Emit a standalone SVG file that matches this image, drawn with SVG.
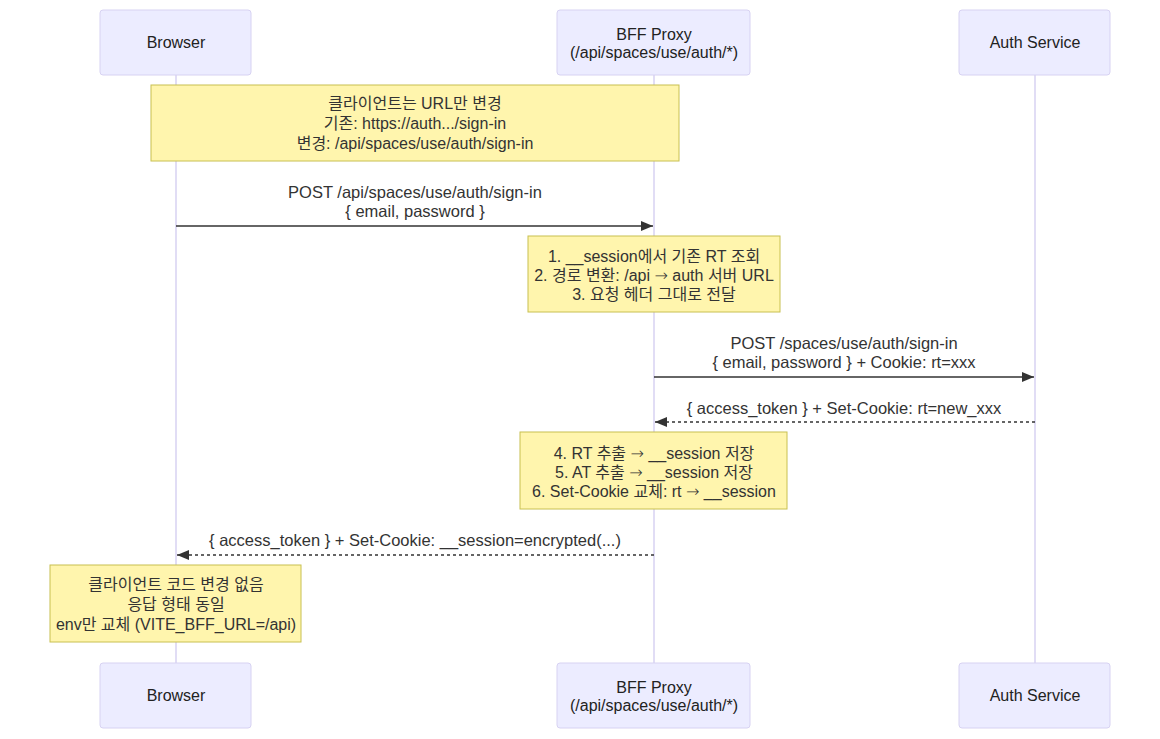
<svg xmlns="http://www.w3.org/2000/svg" width="1160" height="739" viewBox="0 0 1160 739">
  <style>
    .actor { fill: #ececff; stroke: #d7d2f2; stroke-width: 1; }
    .life { stroke: #d7d2f2; stroke-width: 1.5; }
    .note { fill: #fff5ad; stroke: #c8c050; stroke-width: 1; }
    .t { font-family: "Liberation Sans", "Noto Sans CJK KR", sans-serif; font-size: 16.5px; fill: #333; text-anchor: middle; }
    .nt { font-family: "Liberation Sans", "Noto Sans CJK KR", sans-serif; font-size: 16px; fill: #333; text-anchor: middle; }
    .at { font-family: "Liberation Sans", "Noto Sans CJK KR", sans-serif; font-size: 16px; fill: #222; text-anchor: middle; }
    .ar { font-family: "DejaVu Sans", sans-serif; font-weight: 300; }
    .msg { stroke: #333; stroke-width: 1.5; fill: none; }
    .dash { stroke-dasharray: 3 3; }
  </style>
  <defs>
    <marker id="head" viewBox="0 0 12 10" refX="12" refY="5" markerWidth="12" markerHeight="10" markerUnits="userSpaceOnUse" orient="auto">
      <path d="M0,0 L12,5 L0,10 z" fill="#333"/>
    </marker>
  </defs>

  <rect width="1160" height="739" fill="#ffffff"/>

  <!-- lifelines -->
  <g id="lifelines">
    <line class="life" x1="176" y1="75" x2="176" y2="663"/>
    <line class="life" x1="654" y1="75" x2="654" y2="663"/>
    <line class="life" x1="1035" y1="75" x2="1035" y2="663"/>
  </g>

  <!-- participants, top -->
  <g id="browser-top">
    <rect class="actor" x="100" y="10" width="151" height="65" rx="3"/>
    <text class="at" x="176" y="48">Browser</text>
  </g>
  <g id="bff-top">
    <rect class="actor" x="557" y="10" width="193" height="65" rx="3"/>
    <text class="at" x="654" y="40">BFF Proxy</text>
    <text class="at" x="654" y="58">(/api/spaces/use/auth/*)</text>
  </g>
  <g id="auth-top">
    <rect class="actor" x="959" y="10" width="151" height="65" rx="3"/>
    <text class="at" x="1035" y="48">Auth Service</text>
  </g>

  <!-- participants, bottom -->
  <g id="browser-bottom">
    <rect class="actor" x="100" y="663" width="151" height="65" rx="3"/>
    <text class="at" x="176" y="701">Browser</text>
  </g>
  <g id="bff-bottom">
    <rect class="actor" x="557" y="663" width="193" height="65" rx="3"/>
    <text class="at" x="654" y="693">BFF Proxy</text>
    <text class="at" x="654" y="711">(/api/spaces/use/auth/*)</text>
  </g>
  <g id="auth-bottom">
    <rect class="actor" x="959" y="663" width="151" height="65" rx="3"/>
    <text class="at" x="1035" y="701">Auth Service</text>
  </g>

  <!-- notes -->
  <g id="note-url">
    <rect class="note" x="151" y="85" width="528" height="76"/>
    <text class="nt" x="415" y="109">클라이언트는 URL만 변경</text>
    <text class="nt" x="415" y="129">기존: https://auth.../sign-in</text>
    <text class="nt" x="415" y="149">변경: /api/spaces/use/auth/sign-in</text>
  </g>
  <g id="note-proxy">
    <rect class="note" x="528" y="236" width="252" height="76"/>
    <text class="nt" x="654" y="262">1. __session에서 기존 RT 조회</text>
    <text class="nt" x="654" y="281">2. 경로 변환: /api <tspan class="ar">→</tspan> auth 서버 URL</text>
    <text class="nt" x="654" y="300">3. 요청 헤더 그대로 전달</text>
  </g>
  <g id="note-swap">
    <rect class="note" x="520" y="432" width="267" height="77"/>
    <text class="nt" x="654" y="459">4. RT 추출 <tspan class="ar">→</tspan> __session 저장</text>
    <text class="nt" x="654" y="478">5. AT 추출 <tspan class="ar">→</tspan> __session 저장</text>
    <text class="nt" x="654" y="497">6. Set-Cookie 교체: rt <tspan class="ar">→</tspan> __session</text>
  </g>
  <g id="note-client">
    <rect class="note" x="50" y="565" width="251" height="77"/>
    <text class="nt" x="176" y="590">클라이언트 코드 변경 없음</text>
    <text class="nt" x="176" y="610">응답 형태 동일</text>
    <text class="nt" x="176" y="630">env만 교체 (VITE_BFF_URL=/api)</text>
  </g>

  <!-- messages -->
  <g id="connectors">
    <text class="t" x="415" y="198">POST /api/spaces/use/auth/sign-in</text>
    <text class="t" x="415" y="217">{ email, password }</text>
    <line class="msg" x1="176" y1="226" x2="653" y2="226" marker-end="url(#head)"/>

    <text class="t" x="844" y="349">POST /spaces/use/auth/sign-in</text>
    <text class="t" x="844" y="368">{ email, password } + Cookie: rt=xxx</text>
    <line class="msg" x1="654" y1="377" x2="1034" y2="377" marker-end="url(#head)"/>

    <text class="t" x="844" y="414">{ access_token } + Set-Cookie: rt=new_xxx</text>
    <line class="msg dash" x1="1035" y1="422" x2="655" y2="422" marker-end="url(#head)"/>

    <text class="t" x="415" y="546">{ access_token } + Set-Cookie: __session=encrypted(...)</text>
    <line class="msg dash" x1="654" y1="555" x2="177" y2="555" marker-end="url(#head)"/>
  </g>
</svg>
